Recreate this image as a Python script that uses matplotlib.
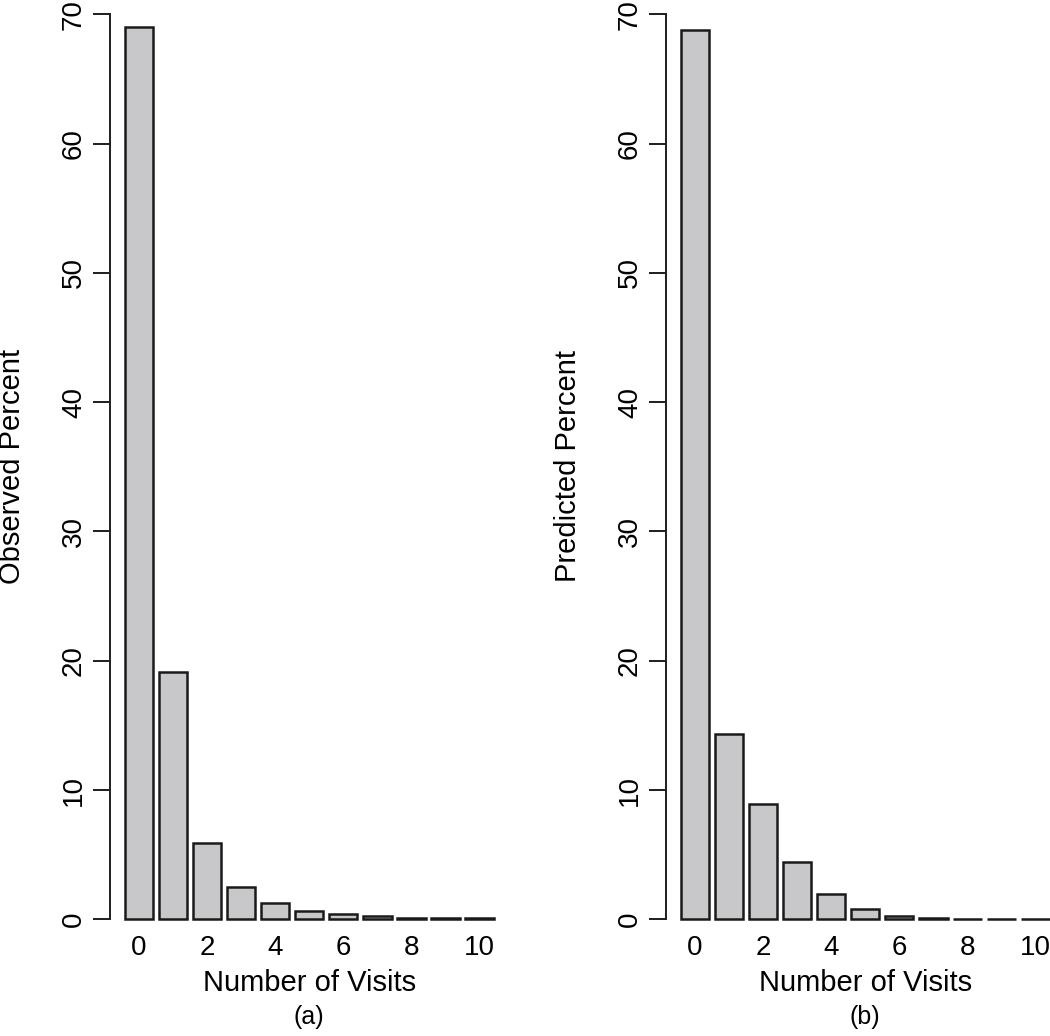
import matplotlib
matplotlib.use("Agg")
import matplotlib.pyplot as plt
import numpy as np

plt.rcParams['font.family'] = ['Liberation Sans', 'DejaVu Sans']

visits = list(range(11))
observed = [69.0, 19.15, 5.92, 2.52, 1.28, 0.66, 0.41, 0.23, 0.12, 0.10, 0.07]
predicted = [68.8, 14.33, 8.9, 4.43, 1.98, 0.77, 0.26, 0.10, 0.05, 0.02, 0.01]
yticks = [0, 10, 20, 30, 40, 50, 60, 70]
xtick_labels = ["0", "2", "4", "6", "8", "10"]
ylabels = ["Observed Percent", "Predicted Percent"]
xlabel = "Number of Visits"
captions = ["(a)", "(b)"]

W, H = 1050, 1036
fig = plt.figure(figsize=(W / 100, H / 100), dpi=100)

px_per_unit_x = 28.38
ax_w = 14.04 * px_per_unit_x
y0_px = 919.3
px_per_unit_y = 12.93
top_val = y0_px / px_per_unit_y

lefts = [110, 666]
series = [observed, predicted]
FS = 20

for k in range(2):
    left = lefts[k]
    ax = fig.add_axes([left / W, (H - y0_px) / H, ax_w / W, y0_px / H])
    centers = 0.7 + 1.2 * np.array(visits)
    ax.bar(centers, series[k], width=1.0, color='#c8c8ca', edgecolor='#1a1a1a',
           linewidth=1.8, clip_on=False)
    ax.set_xlim(-0.32, 13.72)
    ax.set_ylim(0, top_val)
    for s in ['top', 'right', 'bottom']:
        ax.spines[s].set_visible(False)
    ax.spines['left'].set_bounds(0, 70)
    ax.spines['left'].set_linewidth(1.4)
    ax.spines['left'].set_color('#1e1e1e')
    ax.set_yticks(yticks)
    ax.set_yticklabels([str(v) for v in yticks], rotation=90, va='center', fontsize=FS)
    ax.tick_params(axis='y', length=12.5, width=1.4, pad=4, color='#1e1e1e')
    ax.set_xticks(centers[::2])
    ax.set_xticklabels(xtick_labels, fontsize=FS)
    ax.tick_params(axis='x', length=0, pad=11)
    cx = (left + ax_w / 2) / W
    fig.text(cx, 1 - 983 / H, xlabel, ha='center', va='center', fontsize=21)
    fig.text(cx, 1 - 1017 / H, captions[k], ha='center', va='center', fontsize=18)
    ylx = 12 if k == 0 else 568
    fig.text(ylx / W, 1 - 466 / H, ylabels[k], ha='center', va='center',
             rotation=90, fontsize=21)

fig.savefig("out.png", dpi=100)
